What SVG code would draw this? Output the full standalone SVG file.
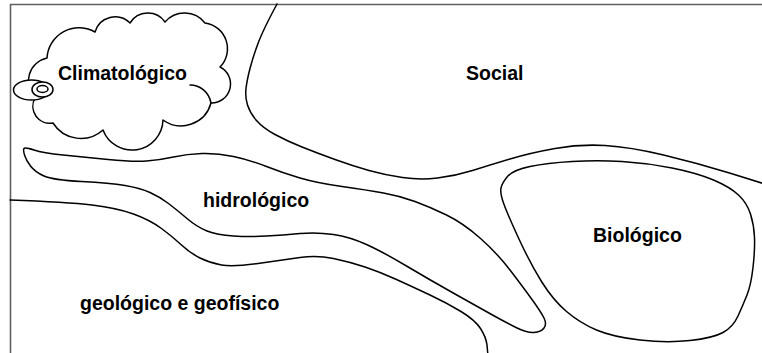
<svg xmlns="http://www.w3.org/2000/svg" width="762" height="353" viewBox="0 0 762 353">
<style>
.ln{fill:none;stroke:#000;stroke-width:1.5;stroke-linejoin:round;stroke-linecap:round}
.sh{fill:#fff;stroke:#000;stroke-width:1.5;stroke-linejoin:round}
.fr{fill:none;stroke:#606060;stroke-width:1.6}
.lb{font-family:"Liberation Sans",Arial,Helvetica,sans-serif;font-weight:bold;font-size:19.5px;fill:#000}
</style>
<rect width="762" height="353" fill="#fff"/>
<g id="frame">
<path class="fr" d="M10.5,353 L10.5,4.5 L762,4.5"/>
</g>
<g id="social">
<path class="ln" d="M277,4 Q263,30 258,43.5 Q253,57 250,68.5 Q247,80 246,88.5 Q245,97 247.5,105 Q250,113 256.5,120.5 Q263,128 275,134.5 Q287,141 302,147 Q317,153 335,159.5 Q353,166 369,170.5 Q385,175 402.5,177.5 Q420,180 437.5,178 Q455,176 472.5,170.5 Q490,165 510,159 Q530,153 555,148.5 Q580,144 605,145.5 Q630,147 663.5,155 Q697,163 729.5,173 L768,185"/>
<text class="lb" x="466" y="80">Social</text>
</g>
<g id="hidrologico">
<path class="sh" d="M24,148.5 Q25,147 34,150 Q43,153 63,155 Q83,157 108,159.5 Q133,162 146.5,161 Q160,160 173.5,157 Q187,154 202,153.5 Q217,153 233.5,156.5 Q250,160 266.5,166.5 Q283,173 300,178 Q317,183 342,186.5 Q367,190 383.5,193 Q400,196 415,201.5 Q430,207 446.5,215 Q463,223 480,238 Q497,253 510,270 Q523,287 532,299.5 Q541,312 544,318 Q547,324 544,328 Q541,332 534,332.5 Q527,333 516,327.5 Q505,322 492.5,315 Q480,308 455,294 Q430,280 406.5,266 Q383,252 366.5,244.5 Q350,237 333.5,234.5 Q317,232 300,233.5 Q283,235 266.5,236 Q250,237 233.5,236 Q217,235 207,231 Q197,227 187,218.5 Q177,210 168.5,203.5 Q160,197 150,192.5 Q140,188 125,185.5 Q110,183 81.5,181.5 Q53,180 44,176 Q35,172 30.5,166 Q26,160 24.5,155 Q23,150 24,148.5 Z"/>
<text class="lb" x="203" y="207">hidrológico</text>
</g>
<g id="geologico">
<path class="ln" d="M10,200 Q67,202 92,205 Q117,208 133.5,214 Q150,220 161.5,228.5 Q173,237 181.5,245 Q190,253 200,258 Q210,263 221.5,265 Q233,267 258,263.5 Q283,260 300,257.5 Q317,255 333.5,258.5 Q350,262 365,267 Q380,272 396.5,279.5 Q413,287 430,295 Q447,303 461,311.5 Q475,320 480.5,328.5 Q486,337 487,345 L488,356"/>
<text class="lb" x="80" y="310">geológico e geofísico</text>
</g>
<g id="biologico">
<path class="sh" d="M501,188 Q502,183 507.5,176.5 Q513,170 530,166.5 Q547,163 572,161.5 Q597,160 622,161.5 Q647,163 672,168 Q697,173 713.5,180 Q730,187 738.5,195 Q747,203 750.5,214 Q754,225 754.5,237.5 Q755,250 753,267.5 Q751,285 747,295 Q743,305 738,316 Q733,327 723,332.5 Q713,338 690,340.5 Q667,343 640,340 Q613,337 596.5,330 Q580,323 566.5,311.5 Q553,300 541.5,281.5 Q530,263 518.5,238 Q507,213 503.5,203 Q500,193 501,188 Z"/>
<text class="lb" x="593" y="242">Biológico</text>
</g>
<g id="climatologico">
<path class="sh" d="M47,58 A32,32 0 0 1 95,32 A21,21 0 0 1 130,23 A21,21 0 0 1 165,22 A26,26 0 0 1 205,23 A26,26 0 0 1 220,67 A19,19 0 0 1 211,103 A31,31 0 0 1 163,120 A31,31 0 0 1 103,130 A33,33 0 0 1 53,123 A17,17 0 0 1 35,98 A24,24 0 0 1 47,58 Z"/>
<path class="ln" d="M190,85 C200,85 209,92 211,103"/>
<ellipse class="sh" cx="31.5" cy="90" rx="18" ry="10"/>
<ellipse class="sh" cx="42.5" cy="89.5" rx="10.5" ry="7.5"/>
<ellipse class="sh" cx="42.5" cy="89" rx="5.5" ry="3.5"/>
<text class="lb" x="58" y="80">Climatológico</text>
</g>
<g id="connectors"></g>
</svg>
